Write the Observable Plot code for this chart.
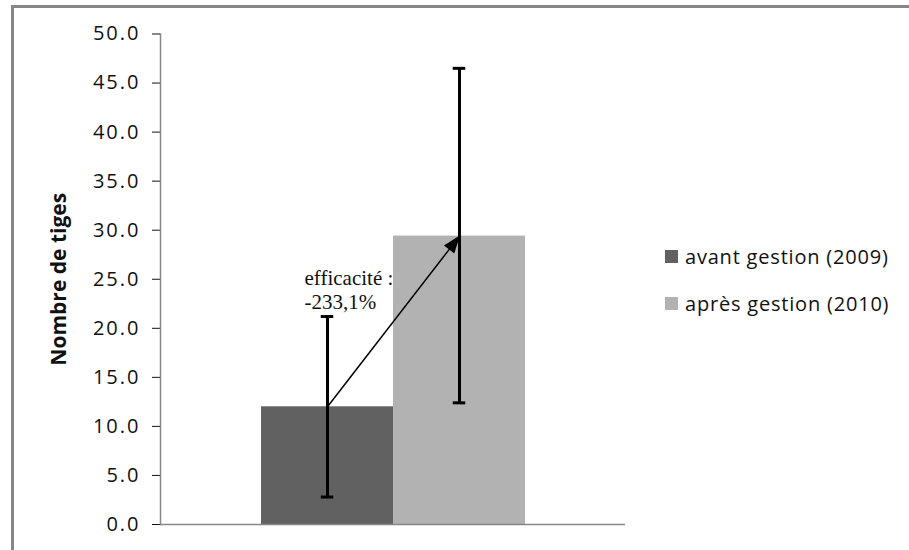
<!DOCTYPE html>
<html><head><meta charset="utf-8">
<script src="https://cdn.jsdelivr.net/npm/d3@7"></script>
<script src="https://cdn.jsdelivr.net/npm/@observablehq/plot@0.6"></script>
<style>
html,body{margin:0;padding:0;background:#fff;}
#wrap{position:relative;width:909px;height:550px;overflow:hidden;}
#border{position:absolute;left:11px;top:5px;width:2000px;height:2000px;border-left:3px solid #878787;border-top:3px solid #878787;}
#chart{position:absolute;left:0;top:0;}
#legend{position:absolute;left:0;top:0;font-family:"Open Sans";font-size:20px;letter-spacing:0.8px;color:#111;}
.item{position:absolute;white-space:nowrap;display:flex;align-items:center;height:20px;}
.sw{width:13px;height:13px;margin-right:7px;flex:none;}
svg g[aria-label="y-axis tick label"] text{letter-spacing:2px;font-size:20px}
svg g[aria-label="ylabel"] text{letter-spacing:2.4px}
</style></head><body>
<div id="wrap"><div id="border"></div><div id="chart"></div><div id="legend"></div></div>
<script>
const series = ["avant gestion (2009)", "après gestion (2010)"];
const values = [12.0, 29.4];
const errLow = [2.8, 12.4];
const errHigh = [21.2, 46.5];
const colors = ["#616161", "#b2b2b2"];
const yTicks = [0, 5, 10, 15, 20, 25, 30, 35, 40, 45, 50];
const yLabel = "Nombre de tiges";
const annotation = ["efficacité :", "-233,1%"];

const data = series.map((s, i) => ({series: s, value: values[i], lo: errLow[i], hi: errHigh[i]}));

const plot = Plot.plot({
  width: 909, height: 550,
  marginLeft: 160, marginRight: 284, marginTop: 33.5, marginBottom: 26,
  style: {fontFamily: "Open Sans", fontSize: "20px", color: "#111", background: "transparent"},
  x: {type: "band", domain: series, paddingInner: 0, paddingOuter: 0.755, axis: null},
  y: {domain: [0, 50], ticks: yTicks, tickFormat: d => d.toFixed(1), tickSize: 8, tickPadding: 12, label: null},
  color: {domain: series, range: colors},
  marks: [
    Plot.barY(data, {x: "series", y: "value", fill: "series"}),
    Plot.ruleY([0], {stroke: "#868686", strokeWidth: 1.5}),
    Plot.frame({anchor: "left", stroke: "#868686", strokeWidth: 1.5}),
    Plot.ruleX(data, {x: "series", y1: "lo", y2: "hi", stroke: "black", strokeWidth: 3}),
    Plot.tickY(data, {x: "series", y: "lo", stroke: "black", strokeWidth: 3, insetLeft: 59.75, insetRight: 59.75}),
    Plot.tickY(data, {x: "series", y: "hi", stroke: "black", strokeWidth: 3, insetLeft: 59.75, insetRight: 59.75}),
    Plot.link([0], {x1: () => series[0], y1: () => values[0], x2: () => series[1], y2: () => values[1],
      stroke: "black", strokeWidth: 1.5, markerEnd: "arrow", ariaLabel: "arrow", insetStart: 4, insetEnd: 2}),
    Plot.text([annotation.join("\n")], {x: () => series[0], y: () => errHigh[0], text: d => d,
      textAnchor: "start", lineAnchor: "bottom", lineHeight: 1.1, dx: -23, dy: -8,
      fontFamily: "Liberation Serif", fontSize: 21, fill: "#111"}),
    Plot.text([yLabel], {frameAnchor: "left", text: d => d, rotate: -90, dx: -101, textAnchor: "middle",
      lineAnchor: "middle", fontWeight: "bold", fontSize: 21, fill: "#111", ariaLabel: "ylabel"})
  ]
});

// filled arrowhead
plot.querySelectorAll("marker").forEach(m => {
  m.setAttribute("viewBox", "-20 -10 22 20");
  m.setAttribute("markerWidth", 22 / 1.5);
  m.setAttribute("markerHeight", 20 / 1.5);
  m.setAttribute("fill", "black");
  m.setAttribute("stroke", "none");
  const p = m.querySelector("path");
  if (p) p.setAttribute("d", "M-17,-6.5L1,0L-17,6.5Z");
});

document.getElementById("chart").appendChild(plot);

const legend = document.getElementById("legend");
const legendTop = [246, 293];
series.forEach((s, i) => {
  const it = document.createElement("div");
  it.className = "item";
  it.style.left = "665px";
  it.style.top = legendTop[i] + "px";
  const sw = document.createElement("span");
  sw.className = "sw";
  sw.style.background = colors[i];
  const tx = document.createElement("span");
  tx.textContent = s;
  it.appendChild(sw); it.appendChild(tx);
  legend.appendChild(it);
});
</script>
</body></html>
